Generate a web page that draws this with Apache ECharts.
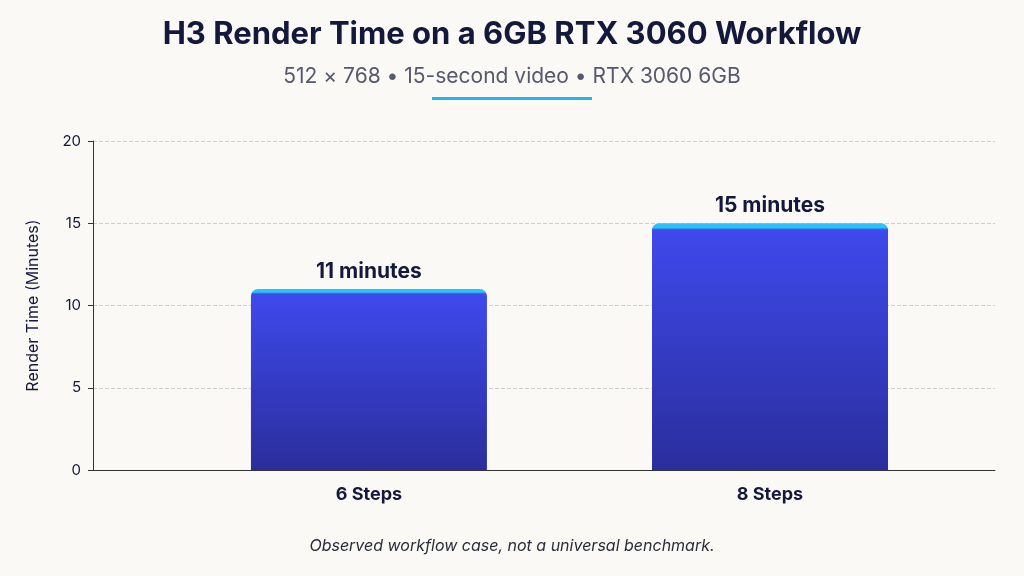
<!DOCTYPE html>
<html><head><meta charset="utf-8">
<script src="https://cdn.jsdelivr.net/npm/echarts@6/dist/echarts.min.js"></script>
<style>html,body{margin:0;background:#FAF9F5;}#c{width:1024px;height:576px;}</style>
</head><body><div id="c"></div>
<script>
const categories = ['6 Steps', '8 Steps'];
const categoryPositions = [1, 2];
const renderMinutes = [11, 15];
const valueLabels = ['11 minutes', '15 minutes'];
const yTicks = [0, 5, 10, 15, 20];

const chart = echarts.init(document.getElementById('c'));
const font = 'Inter, "Noto Sans", sans-serif';
chart.setOption({
  backgroundColor: '#FAF9F5',
  title: [
    {text: 'H3 Render Time on a 6GB RTX 3060 Workflow', left: 'center', top: 14,
     textStyle: {fontFamily: font, fontSize: 31, fontWeight: 'bold', color: '#14183A'}},
    {text: '512 × 768 • 15-second video • RTX 3060 6GB', left: 'center', top: 61,
     textStyle: {fontFamily: font, fontSize: 21, fontWeight: 'normal', color: '#55596A'}},
    {text: 'Observed workflow case, not a universal benchmark.', left: 'center', top: 533,
     textStyle: {fontFamily: font, fontSize: 16, fontStyle: 'italic', fontWeight: 'normal', color: '#2A2D3A'}}
  ],
  graphic: [{type: 'rect', shape: {x: 432, y: 97, width: 160, height: 3}, style: {fill: '#1FB8E8'}}],
  grid: {left: 93, right: 29, top: 141, bottom: 106},
  xAxis: {type: 'value', min: 0.312, max: 2.561,
    axisLine: {show: true, onZero: false, lineStyle: {color: '#333', width: 1}}, axisTick: {show: false},
    splitLine: {show: false},
    axisLabel: {customValues: categoryPositions, fontFamily: font, fontSize: 18, fontWeight: 'bold', color: '#14183A', margin: 16,
      formatter: v => categories[categoryPositions.indexOf(Math.round(v))] || ''}},
  yAxis: {type: 'value', min: 0, max: 20, interval: 5,
    name: 'Render Time (Minutes)', nameLocation: 'middle', nameGap: 52,
    nameTextStyle: {fontFamily: font, fontSize: 16, color: '#14183A'},
    axisLine: {show: true, lineStyle: {color: '#333'}}, axisTick: {show: true, length: 5, lineStyle: {color: '#333'}},
    axisLabel: {fontFamily: font, fontSize: 15, color: '#14183A', margin: 12,
      formatter: v => yTicks.includes(v) ? String(v) : ''},
    splitLine: {lineStyle: {type: 'dashed', color: '#CFCFCF'}}},
  series: [{type: 'bar', data: categoryPositions.map((x, i) => [x, renderMinutes[i]]), barWidth: 236,
    itemStyle: {borderRadius: [7, 7, 0, 0], color: new echarts.graphic.LinearGradient(0, 0, 0, 1, [
      {offset: 0, color: '#27C6F2'}, {offset: 0.017, color: '#27C6F2'},
      {offset: 0.027, color: '#3F49EC'}, {offset: 1, color: '#2A2E9C'}])},
    label: {show: true, position: 'top', distance: 7, formatter: p => valueLabels[p.dataIndex],
      fontFamily: font, fontSize: 21, fontWeight: 'bold', color: '#14183A'}}]
});
</script></body></html>
